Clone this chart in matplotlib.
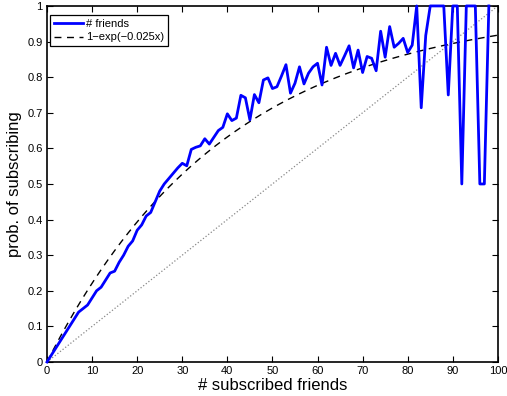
import numpy as np
import matplotlib
matplotlib.use("Agg")
import matplotlib.pyplot as plt

plt.rcParams['font.family'] = ['Liberation Sans', 'DejaVu Sans']

# prob. of subscribing vs number of subscribed friends
n_friends = list(range(0, 99))
prob_subscribe = [
    0.0, 0.02, 0.04, 0.06, 0.08, 0.10, 0.12, 0.14, 0.15, 0.16,
    0.18, 0.20, 0.21, 0.23, 0.25, 0.255, 0.28, 0.30, 0.325, 0.34,
    0.37, 0.385, 0.41, 0.42, 0.45, 0.48, 0.50, 0.515, 0.53, 0.545,
    0.558, 0.551, 0.597, 0.603, 0.607, 0.627, 0.612, 0.631, 0.65, 0.659,
    0.697, 0.678, 0.685, 0.749, 0.742, 0.680, 0.751, 0.728, 0.792, 0.798,
    0.768, 0.773, 0.803, 0.835, 0.755, 0.783, 0.829, 0.781, 0.811, 0.829,
    0.839, 0.778, 0.884, 0.833, 0.867, 0.833, 0.86, 0.888, 0.826, 0.876,
    0.813, 0.858, 0.853, 0.818, 0.929, 0.856, 0.942, 0.884, 0.895, 0.909,
    0.869, 0.89, 1.0, 0.714, 0.917, 1.0, 1.0, 1.0, 1.0, 0.75,
    1.0, 1.0, 0.5, 1.0, 1.0, 1.0, 0.5, 0.5, 1.0,
]
fit_rate = 0.025
x_ticks = list(range(0, 101, 10))
y_ticks = [0, 0.1, 0.2, 0.3, 0.4, 0.5, 0.6, 0.7, 0.8, 0.9, 1]
y_tick_labels = ['0', '0.1', '0.2', '0.3', '0.4', '0.5', '0.6', '0.7', '0.8', '0.9', '1']

fig = plt.figure(figsize=(5.07, 3.96), dpi=100)
ax = fig.add_axes([0.0927, 0.0859, 0.8893, 0.8991])

# blue curve first so it comes first in the legend
ax.plot(n_friends, prob_subscribe, color='#0000ff', linewidth=2.0,
        label='# friends', clip_on=False, zorder=4)
xs = np.linspace(0, 100, 201)
ax.plot(xs, 1 - np.exp(-fit_rate * xs), color='black', linestyle='--',
        linewidth=1.0, dashes=(5, 4), label='1\u2212exp(\u22120.025x)', zorder=3)
ax.plot(xs, xs / 100, color='#888888', linestyle=':', linewidth=0.9, zorder=2)

ax.set_xlim(0, 100)
ax.set_ylim(0, 1)
ax.set_xticks(x_ticks)
ax.set_yticks(y_ticks)
ax.set_yticklabels(y_tick_labels)
ax.tick_params(direction='in', top=True, right=True, length=4, width=0.8,
               labelsize=8, pad=3)
for s in ax.spines.values():
    s.set_linewidth(1.2)

ax.set_xlabel('# subscribed friends', fontsize=12, labelpad=1)
ax.set_ylabel('prob. of subscribing', fontsize=12, labelpad=4)

leg = ax.legend(loc='upper left', fontsize=8, fancybox=False, framealpha=1,
                edgecolor='black', handlelength=2.6, borderpad=0.35,
                labelspacing=0.35, handletextpad=0.3,
                bbox_to_anchor=(0.0, 0.985), borderaxespad=0.3)
leg.get_frame().set_linewidth(0.9)

fig.savefig('out.png', dpi=100)
